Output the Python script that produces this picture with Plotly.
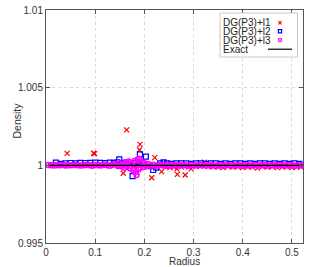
import plotly.graph_objects as go

# ---------------- data ----------------
r_l1 = [0.010, 0.022, 0.034, 0.043, 0.055, 0.067, 0.078, 0.089, 0.097, 0.099,
        0.108, 0.119, 0.128, 0.140, 0.150, 0.157, 0.164, 0.172, 0.180, 0.186,
        0.190, 0.191, 0.197, 0.205, 0.212, 0.215, 0.221, 0.226, 0.235, 0.243,
        0.252, 0.260, 0.266, 0.267, 0.275, 0.283, 0.290, 0.295, 0.305, 0.313,
        0.322, 0.330, 0.340, 0.350, 0.360, 0.370, 0.380, 0.390, 0.400, 0.410,
        0.420, 0.430, 0.440, 0.450, 0.460, 0.470, 0.480, 0.490, 0.500, 0.510,
        0.518]
v_l1 = [1.00000, 1.00001, 0.99999, 1.00077, 1.00000, 1.00001, 0.99999, 1.00002, 1.00078, 1.00075,
        1.00001, 1.00003, 1.00002, 1.00004, 0.99998, 0.99949, 1.00228, 1.00003, 0.99996, 1.00002,
        1.00099, 1.00135, 1.00002, 0.99998, 0.99995, 0.99920, 1.00050, 0.99996, 0.99959, 0.99990,
        0.99985, 0.99988, 0.99977, 0.99942, 0.99990, 0.99938, 0.99990, 0.99977, 0.99992, 0.99994,
        1.00020, 0.99992, 0.99990, 0.99988, 0.99985, 0.99992, 0.99988, 0.99990, 0.99985, 0.99990,
        0.99988, 0.99982, 0.99992, 0.99988, 0.99990, 0.99985, 0.99988, 0.99990, 0.99986, 0.99988,
        0.99990]

r_l2 = [0.020, 0.030, 0.040, 0.050, 0.060, 0.070, 0.080, 0.090, 0.100, 0.110,
        0.120, 0.130, 0.138, 0.145, 0.149, 0.155, 0.162, 0.168, 0.176, 0.182,
        0.188, 0.191, 0.196, 0.203, 0.210, 0.218, 0.224, 0.232, 0.239, 0.246,
        0.255, 0.265, 0.275, 0.285, 0.295, 0.305, 0.315, 0.325, 0.335, 0.345,
        0.355, 0.365, 0.375, 0.385, 0.395, 0.405, 0.415, 0.425, 0.435, 0.445,
        0.455, 0.465, 0.475, 0.485, 0.495, 0.505, 0.515]
v_l2 = [1.00017, 1.00010, 1.00012, 1.00015, 1.00012, 1.00016, 1.00015, 1.00016, 1.00018, 1.00016,
        1.00014, 1.00018, 1.00016, 1.00020, 1.00039, 1.00012, 1.00018, 1.00010, 0.99931, 1.00015,
        1.00020, 1.00071, 1.00012, 1.00056, 0.99995, 0.99970, 0.99985, 1.00012, 1.00019, 1.00012,
        1.00010, 1.00012, 1.00013, 1.00012, 1.00010, 1.00012, 1.00013, 1.00010, 1.00012, 1.00013,
        1.00010, 1.00012, 1.00010, 1.00012, 1.00013, 1.00010, 1.00012, 1.00010, 1.00012, 1.00013,
        1.00010, 1.00012, 1.00010, 1.00012, 1.00010, 1.00012, 1.00010]

r_l3 = [0.004, 0.010, 0.016, 0.022, 0.028, 0.034, 0.040, 0.046, 0.052, 0.058,
        0.064, 0.070, 0.076, 0.082, 0.088, 0.094, 0.100, 0.106, 0.112, 0.118,
        0.124, 0.130, 0.136, 0.142, 0.146, 0.150, 0.153, 0.156, 0.159, 0.162,
        0.165, 0.168, 0.171, 0.174, 0.177, 0.180, 0.182, 0.184, 0.186, 0.188,
        0.190, 0.192, 0.195, 0.198, 0.201, 0.204, 0.208, 0.212, 0.218, 0.224,
        0.230, 0.236, 0.242, 0.248, 0.254, 0.260, 0.266, 0.272, 0.278, 0.284,
        0.290, 0.296, 0.302, 0.308, 0.314, 0.320, 0.326, 0.332, 0.338, 0.344,
        0.350, 0.356, 0.362, 0.368, 0.374, 0.380, 0.386, 0.392, 0.398, 0.404,
        0.410, 0.416, 0.422, 0.428, 0.434, 0.440, 0.446, 0.452, 0.458, 0.464,
        0.470, 0.476, 0.482, 0.488, 0.494, 0.500, 0.506, 0.512, 0.518]
v_l3 = [1.00002, 1.00000, 0.99999, 1.00001, 1.00000, 1.00002, 0.99999, 1.00001, 1.00000, 1.00002,
        1.00000, 0.99999, 1.00001, 1.00003, 1.00000, 0.99998, 1.00002, 1.00001, 0.99999, 1.00003,
        1.00001, 0.99998, 1.00004, 1.00008, 0.99996, 1.00012, 0.99994, 1.00006, 0.99985, 1.00018,
        0.99992, 1.00024, 0.99980, 1.00014, 0.99970, 1.00028, 0.99955, 0.99937, 1.00036, 0.99975,
        1.00040, 0.99985, 1.00020, 0.99990, 1.00012, 0.99995, 1.00008, 0.99997, 1.00004, 0.99998,
        1.00002, 1.00000, 0.99998, 1.00001, 0.99999, 1.00002, 1.00000, 0.99999, 1.00001, 1.00000,
        0.99998, 1.00001, 1.00000, 0.99999, 1.00002, 1.00000, 0.99999, 1.00001, 1.00000, 0.99998,
        1.00001, 1.00000, 0.99999, 1.00002, 1.00000, 0.99999, 1.00001, 1.00000, 0.99998, 1.00001,
        1.00000, 0.99999, 1.00002, 1.00000, 0.99999, 1.00001, 1.00000, 0.99998, 1.00001, 1.00000,
        0.99999, 1.00002, 1.00000, 0.99999, 1.00001, 1.00000, 0.99998, 1.00001, 1.00000]

r_exact = [0.0, 0.5225]
v_exact = [1.0, 1.0]

series_names = ["DG(P3)+l1", "DG(P3)+l2", "DG(P3)+l3", "Exact"]
x_ticks = [0, 0.1, 0.2, 0.3, 0.4, 0.5]
x_tick_labels = ["0", "0.1", "0.2", "0.3", "0.4", "0.5"]
y_ticks = [0.995, 1.0, 1.005, 1.01]
y_tick_labels = ["0.995", "1", "1.005", "1.01"]

# ---------------- layout constants ----------------
W, H = 319, 267
ML, MR, MT, MB = 46, 16, 10, 24
PW, PH = W - ML - MR, H - MT - MB
FONT = "Liberation Sans, Arial, sans-serif"


def px(x):
    return (x - ML) / PW


def py(y):
    return (H - MB - y) / PH


fig = go.Figure()
fig.add_trace(go.Scatter(x=r_l1, y=v_l1, mode="markers", name=series_names[0],
                         marker=dict(symbol="x-thin-open", size=5, color="red",
                                     line=dict(color="red", width=1.2))))
fig.add_trace(go.Scatter(x=r_l2, y=v_l2, mode="markers", name=series_names[1],
                         marker=dict(symbol="square-open", size=5, color="blue",
                                     line=dict(color="blue", width=1.2))))
fig.add_trace(go.Scatter(x=r_l3, y=v_l3, mode="markers", name=series_names[2],
                         marker=dict(symbol="circle-open", size=5, color="magenta",
                                     line=dict(color="magenta", width=1.5))))
fig.add_trace(go.Scatter(x=r_exact, y=v_exact, mode="lines", name=series_names[3],
                         line=dict(color="black", width=1.2)))

axis_common = dict(showline=True, linecolor="#555", linewidth=1, mirror="allticks",
                   ticks="inside", ticklen=4, tickcolor="#555", automargin=False,
                   showgrid=True, gridcolor="#d8d8d8", griddash="dot", gridwidth=1,
                   zeroline=False, tickfont=dict(size=10, color="#333", family=FONT))

# ---------------- hand-built legend (text left, sample right) ----------------
shapes = [dict(type="rect", xref="paper", yref="paper",
               x0=px(220), x1=px(297.5), y0=py(57), y1=py(13),
               line=dict(color="#c8c8c8", width=1), fillcolor="white", layer="above")]
annotations = []
rows_y = [22.7, 31.3, 40.0, 49.2]
for name, ry in zip(series_names, rows_y):
    annotations.append(dict(xref="paper", yref="paper", x=px(221), y=py(ry),
                            xanchor="left", yanchor="middle", showarrow=False,
                            text=name, font=dict(size=10, color="#222", family=FONT)))
sx = 280
d = 1.6
# red cross
for (a, b, c, e) in [(sx - d, rows_y[0] - d, sx + d, rows_y[0] + d),
                     (sx - d, rows_y[0] + d, sx + d, rows_y[0] - d)]:
    shapes.append(dict(type="line", xref="paper", yref="paper",
                       x0=px(a), y0=py(b), x1=px(c), y1=py(e),
                       line=dict(color="red", width=1.2), layer="above"))
# blue square
shapes.append(dict(type="rect", xref="paper", yref="paper",
                   x0=px(sx - d), x1=px(sx + d), y0=py(rows_y[1] + d), y1=py(rows_y[1] - d),
                   line=dict(color="blue", width=1.2), layer="above"))
# magenta circle
shapes.append(dict(type="circle", xref="paper", yref="paper",
                   x0=px(sx - d), x1=px(sx + d), y0=py(rows_y[2] + d), y1=py(rows_y[2] - d),
                   line=dict(color="magenta", width=1.4), layer="above"))
# black line
shapes.append(dict(type="line", xref="paper", yref="paper",
                   x0=px(268), x1=px(292), y0=py(rows_y[3]), y1=py(rows_y[3]),
                   line=dict(color="black", width=1.2), layer="above"))

# axis titles
annotations.append(dict(xref="paper", yref="paper", x=px(184), y=py(261.5),
                        xanchor="center", yanchor="middle", showarrow=False,
                        text="Radius", font=dict(size=10, color="#333", family=FONT)))
annotations.append(dict(xref="paper", yref="paper", x=px(16.5), y=py(121),
                        xanchor="center", yanchor="middle", showarrow=False, textangle=-90,
                        text="Density", font=dict(size=10.5, color="#333", family=FONT)))

fig.update_layout(
    width=W, height=H,
    margin=dict(l=ML, r=MR, t=MT, b=MB, autoexpand=False),
    paper_bgcolor="white", plot_bgcolor="white",
    font=dict(family=FONT, size=10, color="#333"),
    showlegend=False,
    xaxis=dict(range=[0, 0.5225], tickvals=x_ticks, ticktext=x_tick_labels, **axis_common),
    yaxis=dict(range=[0.995, 1.01], tickvals=y_ticks, ticktext=y_tick_labels, **axis_common),
    shapes=shapes, annotations=annotations,
)

fig.write_html("out.html", config={"displayModeBar": False},
               post_script="document.body.style.margin='0';document.body.style.overflow='hidden';")
